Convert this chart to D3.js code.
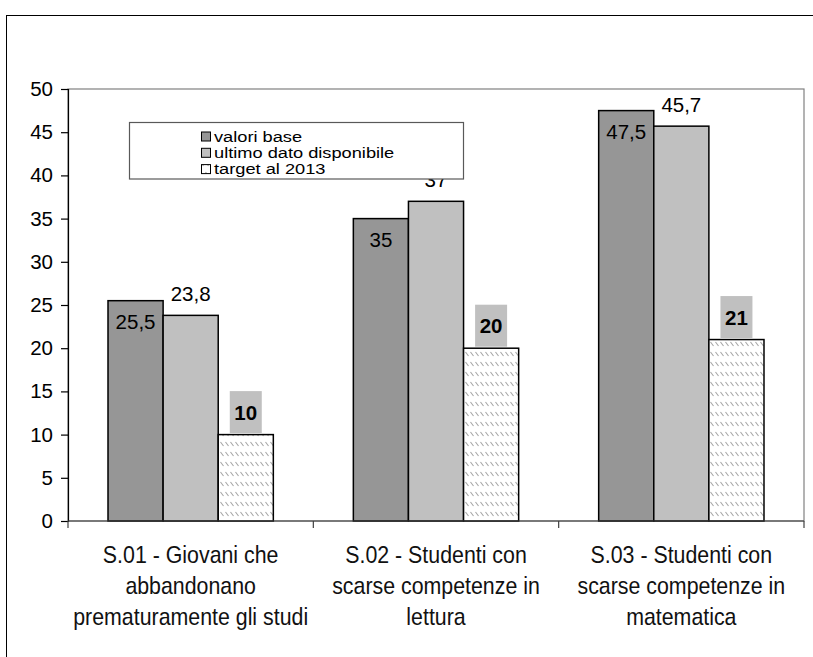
<!DOCTYPE html>
<html>
<head>
<meta charset="utf-8">
<script src="https://cdn.jsdelivr.net/npm/d3@7"></script>
<style>
  body { margin: 0; background: #fff; }
  svg { display: block; font-family: "Liberation Sans", Arial, sans-serif; }
</style>
</head>
<body>
<svg id="chart" width="813" height="657"></svg>
<script>
// Indicator categories (label lines)
const categories = [
  ["S.01 - Giovani che", "abbandonano", "prematuramente gli studi"],
  ["S.02 - Studenti con", "scarse competenze in", "lettura"],
  ["S.03 - Studenti con", "scarse competenze in", "matematica"]
];
const seriesNames = ["valori base", "ultimo dato disponibile", "target al 2013"];
const valoriBase = [25.5, 35, 47.5];
const ultimoDato = [23.8, 37, 45.7];
const target2013 = [10, 20, 21];
const yTicks = [0, 5, 10, 15, 20, 25, 30, 35, 40, 45, 50];

const seriesValues = [valoriBase, ultimoDato, target2013];
const fmt = v => String(v).replace(".", ",");

const svg = d3.select("#chart");
const plot = { left: 68, right: 804, top: 89, bottom: 521 };

// hatch pattern for the target series
const defs = svg.append("defs");
const pat = defs.append("pattern")
  .attr("id", "hatch").attr("patternUnits", "userSpaceOnUse")
  .attr("width", 5).attr("height", 10);
pat.append("rect").attr("width", 5).attr("height", 10).attr("fill", "#fff");
pat.append("line").attr("x1", 0.5).attr("y1", 2).attr("x2", 3.5).attr("y2", 6)
  .attr("stroke", "#a6a6a6").attr("stroke-width", 1.1);

// outer chart frame (left and top edges visible)
svg.append("rect").attr("x", 6.5).attr("y", 15.5).attr("width", 900).attr("height", 900)
  .attr("fill", "none").attr("stroke", "#000").attr("stroke-width", 1);

const x0 = d3.scaleBand().domain(d3.range(categories.length))
  .range([plot.left, plot.right]).padding(0);
const x1 = d3.scaleBand().domain(d3.range(seriesNames.length))
  .range([0, x0.bandwidth()]).paddingInner(0).paddingOuter(0.726);
const y = d3.scaleLinear().domain([0, 50]).range([plot.bottom, plot.top]);

const fills = ["#969696", "#c0c0c0", "url(#hatch)"];

// plot area border
svg.append("rect")
  .attr("x", plot.left).attr("y", y(50))
  .attr("width", plot.right - plot.left).attr("height", y(0) - y(50))
  .attr("fill", "#fff").attr("stroke", "#808080").attr("stroke-width", 1.2);

// bars
seriesValues.forEach((vals, s) => {
  svg.append("g").selectAll("rect").data(vals).join("rect")
    .attr("x", (d, i) => x0(i) + x1(s))
    .attr("y", d => y(d))
    .attr("width", x1.bandwidth())
    .attr("height", d => y(0) - y(d))
    .attr("fill", fills[s])
    .attr("stroke", "#000").attr("stroke-width", 1.5);
});

// value labels: base series inside the bar top
svg.append("g").selectAll("text").data(valoriBase).join("text")
  .attr("x", (d, i) => x0(i) + x1(0) + x1.bandwidth() / 2)
  .attr("y", d => y(d) + 28.5)
  .attr("text-anchor", "middle").attr("font-size", 20.5).attr("fill", "#000")
  .text(fmt);

// latest-value series above the bar
svg.append("g").selectAll("text").data(ultimoDato).join("text")
  .attr("x", (d, i) => x0(i) + x1(1) + x1.bandwidth() / 2)
  .attr("y", d => y(d) - 14)
  .attr("text-anchor", "middle").attr("font-size", 20.5).attr("fill", "#000")
  .text(fmt);

// target series: bold label on a grey box
const tg = svg.append("g").selectAll("g").data(target2013).join("g")
  .attr("transform", (d, i) => `translate(${x0(i) + x1(2) + x1.bandwidth() / 2},${y(d)})`);
tg.append("rect").attr("x", -16).attr("y", -43.5).attr("width", 32).attr("height", 42)
  .attr("fill", "#c0c0c0");
tg.append("text").attr("x", 0).attr("y", -15)
  .attr("text-anchor", "middle").attr("font-size", 20.5).attr("font-weight", "bold")
  .attr("fill", "#000").text(fmt);

// y axis
const yAxis = svg.append("g").attr("transform", `translate(${plot.left},0)`)
  .call(d3.axisLeft(y).tickValues(yTicks).tickSize(7).tickPadding(8).tickFormat(d => d));
yAxis.attr("font-family", null).attr("font-size", 20.5);
yAxis.select(".domain").attr("stroke", "#000").attr("stroke-width", 1.2);
yAxis.selectAll(".tick line").attr("stroke", "#000").attr("stroke-width", 1.2);
yAxis.selectAll(".tick text").attr("fill", "#000");

// x axis line with ticks at category boundaries
const xEdges = [...x0.domain().map(i => x0(i)), x0.range()[1]];
svg.append("line").attr("x1", plot.left).attr("x2", plot.right)
  .attr("y1", y(0)).attr("y2", y(0)).attr("stroke", "#404040").attr("stroke-width", 1.2);
svg.append("g").selectAll("line").data(xEdges).join("line")
  .attr("x1", d => d).attr("x2", d => d)
  .attr("y1", y(0)).attr("y2", y(0) + 7)
  .attr("stroke", "#404040").attr("stroke-width", 1.2);

// category labels
const cl = svg.append("g").selectAll("g").data(categories).join("g");
cl.each(function (lines, i) {
  const g = d3.select(this);
  lines.forEach((t, k) => {
    g.append("text")
      .attr("transform", `translate(${x0(i) + x0.bandwidth() / 2},${563 + k * 31}) scale(0.89,1)`)
      .attr("text-anchor", "middle").attr("font-size", 24).attr("fill", "#111")
      .text(t);
  });
});

// legend
const lg = svg.append("g");
lg.append("rect").attr("x", 129.5).attr("y", 122.5).attr("width", 334).attr("height", 56.5)
  .attr("fill", "#fff").attr("stroke", "#595959").attr("stroke-width", 1.2);
seriesNames.forEach((name, s) => {
  const by = 141.5 + s * 16.3;
  lg.append("rect").attr("x", 201.5).attr("y", by - 9.5).attr("width", 9).attr("height", 9)
    .attr("fill", fills[s]).attr("stroke", "#000").attr("stroke-width", 1);
  lg.append("text")
    .attr("transform", `translate(214,${by}) scale(1.2,1)`)
    .attr("font-size", 15.2).attr("fill", "#000").text(name);
});
</script>
</body>
</html>
